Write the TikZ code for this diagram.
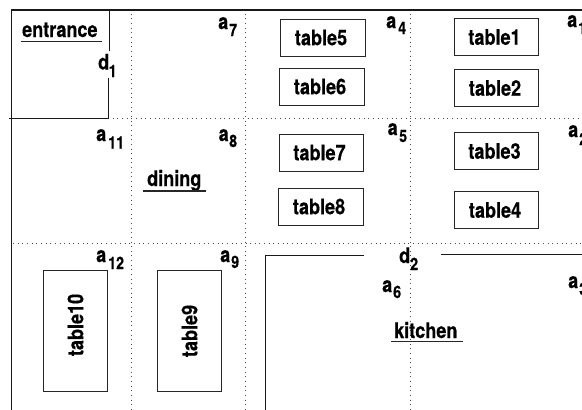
\documentclass[tikz,border=0pt]{standalone}
\usepackage{fontspec}
\setmainfont{Liberation Sans}
\newfontfamily\lblfont[FakeStretch=0.84,BoldFont={TeX Gyre Heros Bold},BoldFeatures={FakeStretch=0.84,FakeBold=0.4}]{TeX Gyre Heros}
\tikzset{
  wall/.style={line width=1.1pt,draw=black!90},
  grid/.style={line width=1pt,draw=black!70,dash pattern=on 1pt off 3.65pt},
  tablebox/.style={draw=black!85,line width=1pt,fill=white,inner sep=0pt,font=\fontsize{21.5}{22}\lblfont\bfseries},
  room/.style={anchor=base west,inner sep=0pt,font=\fontsize{21.5}{22}\lblfont\bfseries},
  mainlab/.style={anchor=base west,inner sep=0pt,font=\fontsize{21.5}{22}\lblfont\bfseries},
  sublab/.style={anchor=base west,inner sep=0pt,font=\fontsize{17}{18}\lblfont\bfseries},
  under/.style={line width=1.3pt,draw=black!85}
}
\newcommand{\tb}[6]{\node[tablebox,minimum width=#4 pt,minimum height=#5 pt] (#1) at (#2,#3) {#6};}
\newcommand{\lab}[7]{\node[mainlab] (#1) at (#2,#3) {#4};\node[sublab] (#1s) at (#5,#6) {#7};}
\begin{document}
\begin{tikzpicture}[x=1pt,y=-1pt]
\useasboundingbox (0,0) rectangle (582,410);
\clip (0,0) rectangle (582,410);
% dotted grid
\coordinate (g1t) at (131.5,9); \coordinate (g1b) at (131.5,410);
\coordinate (g2t) at (245,9); \coordinate (g2b) at (245,410);
\coordinate (g3t) at (410.5,9); \coordinate (g3b) at (410.5,410);
\coordinate (h1l) at (108,118.5); \coordinate (h1r) at (582,118.5);
\coordinate (h2l) at (13,243); \coordinate (h2r) at (582,243);
\draw[grid] (g1t)--(g1b); \draw[grid] (g2t)--(g2b); \draw[grid] (g3t)--(g3b);
\draw[grid] (h1l)--(h1r); \draw[grid] (h2l)--(h2r);
% walls
\coordinate (tl) at (11.5,10); \coordinate (tr) at (582,10); \coordinate (bl) at (11.5,410);
\draw[wall] (tr)--(tl)--(bl);
\coordinate (e1) at (109.5,10); \coordinate (e2) at (109.5,51);
\coordinate (e3) at (108.5,78); \coordinate (e4) at (108.5,118.5); \coordinate (e5) at (9,118.5);
\draw[wall] (e1)--(e2); \draw[wall] (e3)--(e4)--(e5);
\coordinate (k1) at (265.5,410); \coordinate (k2) at (265.5,255.5); \coordinate (k3) at (364,255.5);
\coordinate (k4) at (441,254.5); \coordinate (k5) at (582,254.5);
\draw[wall] (k1)--(k2)--(k3); \draw[wall] (k4)--(k5);
% tables
\tb{t5}{322.5}{37.5}{85}{37}{\hspace*{-3pt}table5}
\tb{t6}{321.5}{86.5}{85}{37}{\hspace*{-3pt}table6}
\tb{t1}{496.5}{37}{84}{37}{\hspace*{-4pt}table1}
\tb{t2}{496.5}{88}{84}{37}{\hspace*{-3pt}table2}
\tb{t7}{321}{152.5}{84}{37}{\hspace*{-3pt}table7}
\tb{t8}{320.5}{206.5}{85}{37}{\hspace*{-3pt}table8}
\tb{t3}{496}{151}{84}{37}{\hspace*{-3pt}table3}
\tb{t4}{496.5}{210}{84}{37}{\hspace*{-3pt}table4}
\node[tablebox,minimum width=121pt,minimum height=64pt,rotate=90] (t10) at (75.5,331) {\hspace*{12pt}table10};
\node[tablebox,minimum width=121pt,minimum height=64pt,rotate=90] (t9) at (189.5,331) {table9};
% room names
\node[room] (entrance) at (22,37) {entrance};
\node[room] (dining) at (147,186) {dining};
\node[room] (kitchen) at (394,338) {kitchen};
\coordinate (u1a) at (21,41.5); \coordinate (u1b) at (102,41.5);
\coordinate (u2a) at (143,191); \coordinate (u2b) at (206,191);
\coordinate (u3a) at (391,341.5); \coordinate (u3b) at (463,341.5);
\draw[under] (u1a)--(u1b); \draw[under] (u2a)--(u2b); \draw[under] (u3a)--(u3b);
% area labels
\lab{a7}{218}{29}{a}{229}{36}{7}
\lab{a11}{96}{141}{a}{108}{148.5}{11}
\lab{a8}{218.5}{141}{a}{229}{147}{8}
\lab{d1}{98}{69.5}{d}{108.5}{77}{1}
\lab{a4}{386}{28}{a}{398}{34}{4}
\lab{a1}{567}{27}{a}{578}{34}{1}
\lab{a5}{387.5}{135}{a}{399}{142}{5}
\lab{a2}{568}{137}{a}{579}{145}{2}
\lab{a12}{96}{262}{a}{108}{269}{12}
\lab{a9}{220}{262}{a}{231}{268}{9}
\lab{d2}{399}{263}{d}{410}{270}{2}
\lab{a6}{382}{292}{a}{393}{298}{6}
\lab{a3}{568}{288}{a}{579}{295}{3}
\end{tikzpicture}
\end{document}
